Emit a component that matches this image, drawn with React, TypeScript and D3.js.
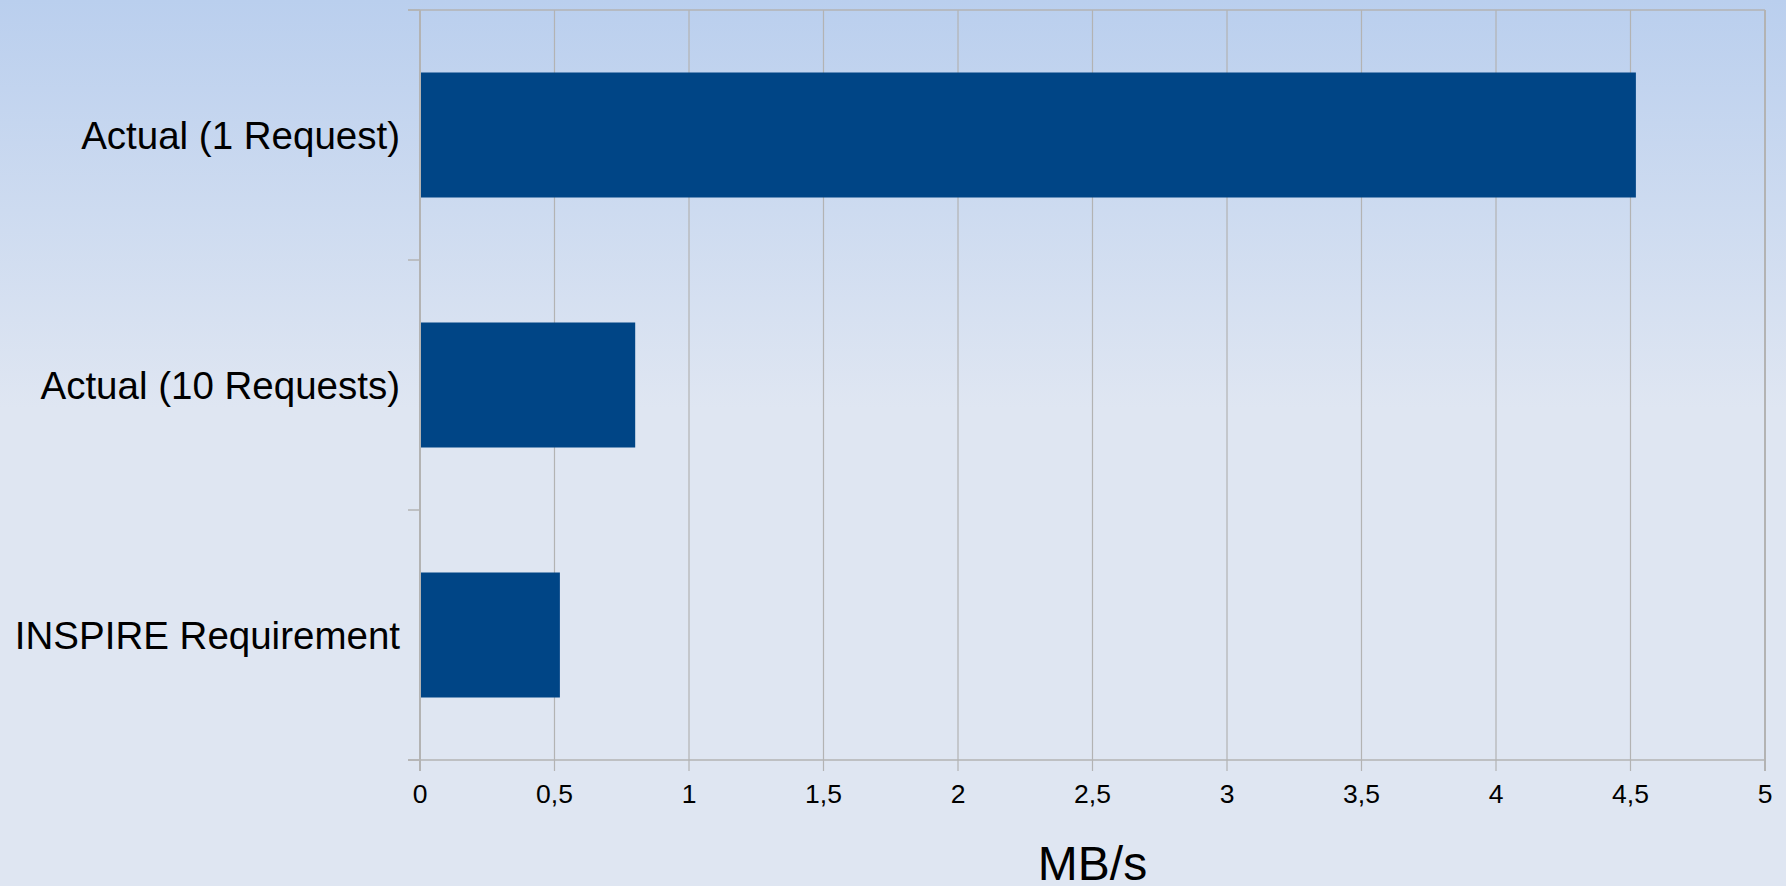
import React from "react";
import * as d3 from "d3";

const categories = ["Actual (1 Request)", "Actual (10 Requests)", "INSPIRE Requirement"];
const values = [4.52, 0.8, 0.52];
const xTicks = [0, 0.5, 1, 1.5, 2, 2.5, 3, 3.5, 4, 4.5, 5];
const xTitle = "MB/s";

const W = 1786;
const H = 886;
const M = { left: 420, right: 21, top: 10, bottom: 126 };

export default function App() {
  const x = d3.scaleLinear().domain([0, 5]).range([M.left, W - M.right]);
  const y = d3
    .scaleBand<string>()
    .domain(categories)
    .range([M.top, H - M.bottom])
    .paddingInner(0.5)
    .paddingOuter(0.25);
  const yb = d3.scaleBand<string>().domain(categories).range([M.top, H - M.bottom]);
  const grid = "#b3b3b3";
  const font = "'Liberation Sans', Arial, sans-serif";
  const fmt = (v: number) => String(v).replace(".", ",");
  const y0 = M.top;
  const y1 = H - M.bottom;
  const catEdges = [...categories.map((c) => yb(c) as number), y1];
  return (
    <svg
      width={W}
      height={H}
      style={{ position: "absolute", left: 0, top: 0 }}
      fontFamily={font}
    >
      <defs>
        <linearGradient id="bg" x1="0" y1="0" x2="0" y2="1">
          <stop offset="0" stopColor="#bacfee" />
          <stop offset="0.46" stopColor="#dfe6f2" />
          <stop offset="1" stopColor="#dfe6f2" />
        </linearGradient>
      </defs>
      <rect x={0} y={0} width={W} height={H} fill="url(#bg)" />
      {xTicks.map((t) => (
        <line
          key={"g" + t}
          x1={x(t)}
          x2={x(t)}
          y1={y0}
          y2={y1 + 11}
          stroke={grid}
          strokeWidth={t === 0 || t === 5 ? 2 : 1.2}
        />
      ))}
      <line x1={x(0) - 12} x2={x(5)} y1={y0} y2={y0} stroke={grid} strokeWidth={1.5} />
      {catEdges.map((e, i) => (
        <line key={"c" + i} x1={x(0) - 12} x2={x(0)} y1={e} y2={e} stroke={grid} strokeWidth={1.5} />
      ))}
      <line x1={x(0) - 12} x2={x(5)} y1={y1} y2={y1} stroke={grid} strokeWidth={1.5} />
      {categories.map((c, i) => (
        <rect
          key={c}
          x={x(0) + 1}
          y={y(c)}
          width={x(values[i]) - x(0) - 1}
          height={y.bandwidth()}
          fill="#004586"
        />
      ))}
      {categories.map((c) => (
        <text
          key={"l" + c}
          x={400}
          y={(y(c) as number) + y.bandwidth() / 2}
          dy="0.36em"
          textAnchor="end"
          fontSize={38.5}
          fill="#000"
        >
          {c}
        </text>
      ))}
      {xTicks.map((t) => (
        <text key={"t" + t} x={x(t)} y={803} textAnchor="middle" fontSize={26.5} fill="#000">
          {fmt(t)}
        </text>
      ))}
      <text x={(x(0) + x(5)) / 2} y={880} textAnchor="middle" fontSize={48} fill="#000">
        {xTitle}
      </text>
    </svg>
  );
}
